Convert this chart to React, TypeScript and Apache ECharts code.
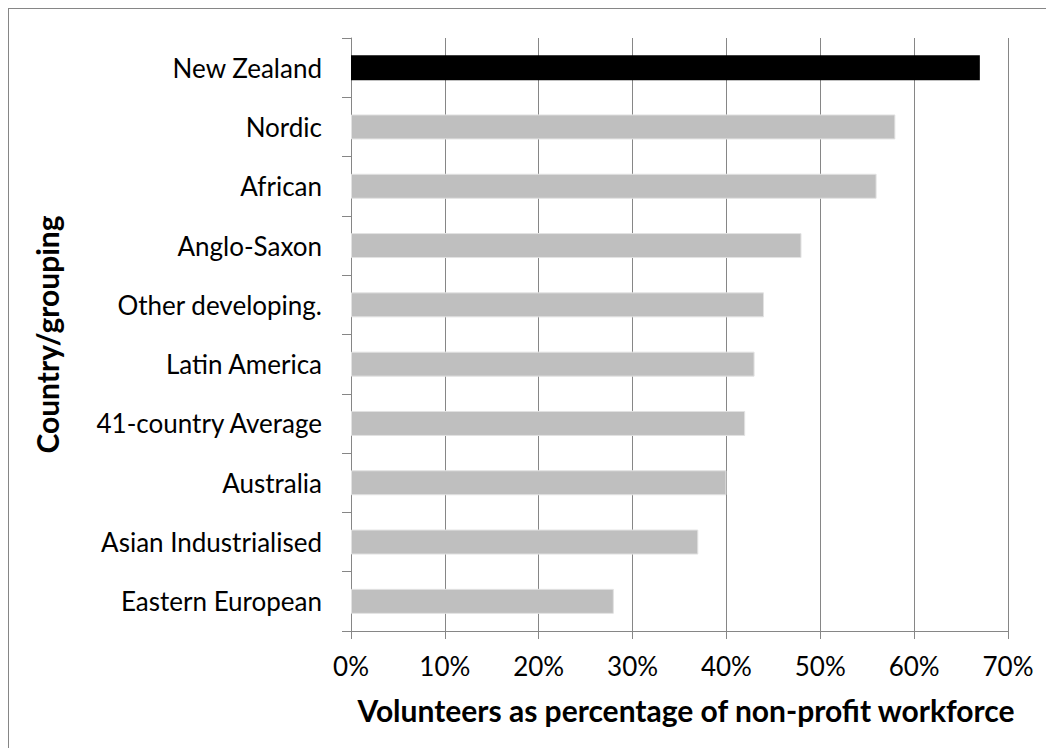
import React, { useEffect, useRef } from "react";
import * as echarts from "echarts";

const categories: string[] = [
  "New Zealand",
  "Nordic",
  "African",
  "Anglo-Saxon",
  "Other developing.",
  "Latin America",
  "41-country Average",
  "Australia",
  "Asian Industrialised",
  "Eastern European",
];
const values: number[] = [67, 58, 56, 48, 44, 43, 42, 40, 37, 28];
const highlighted: string[] = ["New Zealand"];
const xTitle = "Volunteers as percentage of non-profit workforce";
const yTitle = "Country/grouping";

const FONT = "Lato, 'Open Sans', sans-serif";

export default function App() {
  const ref = useRef<HTMLDivElement>(null);
  useEffect(() => {
    if (!ref.current) return;
    const chart = echarts.init(ref.current, undefined, { renderer: "svg" });
    chart.setOption({
      animation: false,
      backgroundColor: "#ffffff",
      textStyle: { fontFamily: FONT },
      grid: { left: 342, top: 29, right: 38, bottom: 117, containLabel: false },
      xAxis: {
        type: "value",
        min: 0,
        max: 70,
        interval: 10,
        name: xTitle,
        nameLocation: "middle",
        nameGap: 64,
        nameTextStyle: {
          fontFamily: FONT,
          fontWeight: "bold",
          fontSize: 30,
          color: "#000",
          padding: [0, 0, 0, 13],
        },
        axisLine: { show: true, lineStyle: { color: "#868686", width: 1 } },
        axisTick: { show: true, length: 8, lineStyle: { color: "#868686" } },
        axisLabel: {
          formatter: "{value}%",
          fontSize: 26,
          color: "#000",
          margin: 22,
          fontFamily: FONT,
        },
        splitLine: { show: true, lineStyle: { color: "#868686", width: 1 } },
      },
      yAxis: {
        type: "category",
        data: categories,
        inverse: true,
        name: yTitle,
        nameLocation: "middle",
        nameGap: 289,
        nameTextStyle: {
          fontFamily: FONT,
          fontWeight: "bold",
          fontSize: 30,
          color: "#000",
        },
        axisLine: { show: true, lineStyle: { color: "#868686", width: 1 } },
        axisTick: { show: true, length: 9, inside: false, lineStyle: { color: "#868686" } },
        axisLabel: { fontSize: 26, color: "#000", margin: 29, fontFamily: FONT },
        splitLine: { show: false },
      },
      series: [
        {
          type: "bar",
          barWidth: 25,
          data: categories.map((c, i) => ({
            value: values[i],
            itemStyle: highlighted.includes(c)
              ? { color: "#000000" }
              : { color: "#bfbfbf", borderColor: "#e2e2e2", borderWidth: 1 },
          })),
        },
      ],
    });
    return () => chart.dispose();
  }, []);
  return (
    <div
      style={{
        width: 1038,
        height: 740,
        boxSizing: "border-box",
        borderTop: "1px solid #868686",
        borderLeft: "1px solid #868686",
        background: "#fff",
      }}
    >
      <div ref={ref} style={{ width: 1037, height: 739 }} />
    </div>
  );
}
